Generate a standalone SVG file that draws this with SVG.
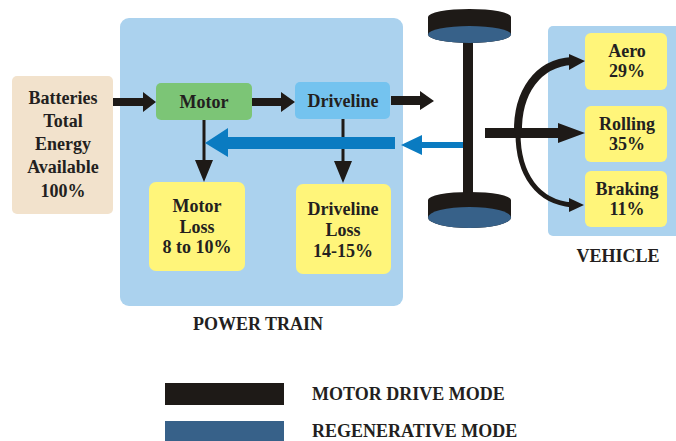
<svg xmlns="http://www.w3.org/2000/svg" width="676" height="441" viewBox="0 0 676 441">
<style>
text{font-family:"Liberation Serif","Times New Roman","DejaVu Serif",serif;font-weight:700;font-size:18px;fill:#231f20;text-anchor:middle}
.lg{text-anchor:start}
.panel{fill:#abd2ee}
.yl{fill:#fff57a}
.blk{fill:#1e1a17}
.wb{fill:#376189}
</style>
<rect width="676" height="441" fill="#fff"/>
<g id="powertrain">
<rect class="panel" x="120" y="18" width="283" height="288" rx="9"/>
<text x="258" y="330">POWER TRAIN</text>
</g>
<g id="vehicle">
<rect class="panel" x="548" y="26" width="140" height="210" rx="5"/>
<text x="618" y="262">VEHICLE</text>
</g>
<g id="batteries">
<rect x="12" y="76" width="101" height="138" rx="5" fill="#f2e2cc"/>
<text x="63" y="104">Batteries</text>
<text x="63" y="127">Total</text>
<text x="63" y="150">Energy</text>
<text x="63" y="173">Available</text>
<text x="63" y="197">100%</text>
</g>
<g id="motor">
<rect x="156" y="83" width="96" height="37" rx="5" fill="#7cc576"/>
<text x="204" y="108">Motor</text>
</g>
<g id="driveline">
<rect x="295" y="82" width="95" height="37" rx="5" fill="#74c3ef"/>
<text x="343" y="107">Driveline</text>
</g>
<g id="motorloss">
<rect class="yl" x="149" y="182" width="96" height="89" rx="7"/>
<text x="197" y="212">Motor</text>
<text x="197" y="233">Loss</text>
<text x="197" y="253">8 to 10%</text>
</g>
<g id="drivelineloss">
<rect class="yl" x="296" y="184" width="95" height="90" rx="7"/>
<text x="343" y="215">Driveline</text>
<text x="343" y="236">Loss</text>
<text x="343" y="257">14-15%</text>
</g>
<g id="axle">
<rect class="blk" x="463" y="40" width="10" height="155"/>
<path class="blk" d="M428 17 A41.5 8 0 0 1 511 17 L511 34.5 A41.5 8.5 0 0 1 428 34.5 Z"/>
<ellipse class="wb" cx="469.5" cy="34.5" rx="41.5" ry="8.5"/>
<path class="blk" d="M428 200 A41.5 8 0 0 1 511 200 L511 217.5 A41.5 10.5 0 0 1 428 217.5 Z"/>
<ellipse class="wb" cx="469.5" cy="217.5" rx="41.5" ry="10.5"/>
</g>
<g id="aero">
<rect class="yl" x="585" y="33" width="82" height="57" rx="6"/>
<text x="627" y="57">Aero</text>
<text x="627" y="77">29%</text>
</g>
<g id="rolling">
<rect class="yl" x="585" y="106" width="82" height="56" rx="6"/>
<text x="627" y="130">Rolling</text>
<text x="627" y="150">35%</text>
</g>
<g id="braking">
<rect class="yl" x="585" y="171" width="82" height="56" rx="6"/>
<text x="627" y="195">Braking</text>
<text x="627" y="215">11%</text>
</g>
<g id="connectors">
<path class="blk" d="M113 98 H143 V92 L156 102 L143 112 V106 H113 Z"/>
<path class="blk" d="M252 98 H281 V92 L295 102 L281 112 V106 H252 Z"/>
<path class="blk" d="M391 96 H420 V91 L434 101 L420 110 V105 H391 Z"/>
<path class="blk" d="M202.5 120 H205.5 V160 H213 L204 182 L195 160 H202.5 Z"/>
<path class="blk" d="M341.5 119 H344.5 V161 H352 L343 183 L334 161 H341.5 Z"/>
<path fill="#0a7bc1" d="M395 137 V149 H228 V157 L205 143 L228 128 V137 Z"/>
<path fill="#0a7bc1" d="M463 142 V148 H422 V155 L401 145 L422 135 V142 Z"/>
<path class="blk" d="M485 128 H558 V123 L585 133 L558 143 V138 H485 Z"/>
<path d="M518 133 C517 92 538 63 572 61" fill="none" stroke="#1e1a17" stroke-width="8"/>
<path class="blk" d="M569 54 L585 61 L569 70 Z"/>
<path d="M518 133 C518 175 538 202 572 205" fill="none" stroke="#1e1a17" stroke-width="5"/>
<path class="blk" d="M569 198 L584 205 L569 212 Z"/>
</g>
<g id="legend">
<rect class="blk" x="165" y="383" width="119" height="22"/>
<rect class="wb" x="165" y="421" width="119" height="22"/>
<text class="lg" x="312" y="400">MOTOR DRIVE MODE</text>
<text class="lg" x="312" y="437">REGENERATIVE MODE</text>
</g>
</svg>
